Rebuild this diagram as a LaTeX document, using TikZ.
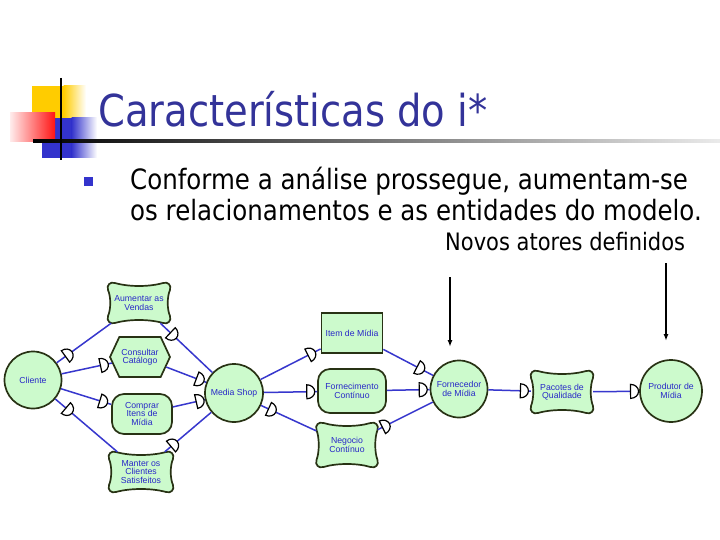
\documentclass[tikz,border=0pt]{standalone}
\usepackage{fontspec}
\setmainfont{DejaVu Sans}
\newfontfamily\tah[FakeStretch=0.875]{DejaVu Sans}
\newfontfamily\arl{Liberation Sans}
\usetikzlibrary{arrows.meta,shapes.symbols,calc}
\definecolor{titleblue}{RGB}{51,51,153}
\definecolor{nodefill}{RGB}{204,250,204}
\definecolor{nodeline}{RGB}{40,50,20}
\definecolor{edgeblue}{RGB}{55,55,205}
\definecolor{txtblue}{RGB}{40,40,200}
\definecolor{bulletblue}{RGB}{51,51,204}
\definecolor{decoyellow}{RGB}{255,204,0}
\definecolor{decored}{RGB}{255,20,20}
\definecolor{decoblue}{RGB}{51,51,204}
\tikzset{
  lbl/.style={font=\arl\fontsize{8.7}{8.5}\selectfont, text=txtblue, align=center, inner sep=1pt},
  actor/.style={lbl, circle, draw=nodeline, fill=nodefill, line width=1.7pt},
  goal/.style={lbl, rectangle, draw=nodeline, fill=nodefill, line width=1.7pt, rounded corners=12pt},
  task/.style={lbl, shape=signal, signal to=east and west, signal pointer angle=130, draw=nodeline, fill=nodefill, line width=1.7pt},
  resource/.style={lbl, rectangle, draw=nodeline, fill=nodefill, line width=1.7pt},
  sgtext/.style={lbl, rectangle},
  sgline/.style={draw=nodeline, fill=nodefill, line width=1.7pt, line join=round},
  dep/.style={draw=edgeblue, line width=1.5pt},
  dmark/.pic={\draw[black, fill=white, line width=1.2pt] (-4,-7) -- (-4,7) arc[start angle=90, end angle=-90, x radius=8, y radius=7] -- cycle;},
  callout/.style={draw=black, line width=1.4pt, -{Latex[length=7pt,width=5pt]}},
}
\newcommand\softgoalnode[5]{%
  \pgfmathsetmacro\sgW{#3/2}\pgfmathsetmacro\sgH{#4/2}%
  \begin{scope}[shift={(#2)}]
  \draw[sgline] (-\sgW+7,-\sgH) .. controls (-\sgW/3,-\sgH+4) and (\sgW/3,-\sgH+4) .. (\sgW-7,-\sgH)
     .. controls (\sgW-2,-\sgH-1.5) and (\sgW+1.5,-\sgH+2) .. (\sgW,-\sgH+7)
     .. controls (\sgW-3,-\sgH/3) and (\sgW-3,\sgH/3) .. (\sgW,\sgH-7)
     .. controls (\sgW+1.5,\sgH-2) and (\sgW-2,\sgH+1.5) .. (\sgW-7,\sgH)
     .. controls (\sgW/3,\sgH-4) and (-\sgW/3,\sgH-4) .. (-\sgW+7,\sgH)
     .. controls (-\sgW+2,\sgH+1.5) and (-\sgW-1.5,\sgH-2) .. (-\sgW,\sgH-7)
     .. controls (-\sgW+3,\sgH/3) and (-\sgW+3,-\sgH/3) .. (-\sgW,-\sgH+7)
     .. controls (-\sgW-1.5,-\sgH+2) and (-\sgW+2,-\sgH-1.5) .. (-\sgW+7,-\sgH) -- cycle;
  \end{scope}
  \node[sgtext, minimum width=#3, minimum height=#4] (#1) at (#2) {#5};
}
\begin{document}
\begin{tikzpicture}[x=1pt,y=-1pt]
\useasboundingbox (0,0) rectangle (720,540);
\fill[white] (0,0) rectangle (720,540);
% decoration
\fill[decoyellow] (32,86) rectangle (64,118);
\shade[left color=decoyellow, right color=white] (63.5,86) rectangle (86,118);
\fill[decoblue] (42,118) rectangle (72,158);
\shade[left color=decoblue, right color=white] (71.5,118) rectangle (97,158);
\shade[left color=decored!8, right color=decored] (10,113) rectangle (55,142);
\shade[left color=black, right color=black!8] (33,140) rectangle (720,142.2);
\draw[black, line width=2pt] (61,78) -- (61,160);
% title
\node[anchor=base west, inner sep=0pt, text=titleblue, font=\tah\fontsize{44}{50}\selectfont] (title) at (98,127) {Características do i*};
% bullet
\fill[bulletblue] (84,177) rectangle (93,186);
\node[anchor=base west, inner sep=0pt, font=\tah\fontsize{28}{31}\selectfont] (l1) at (130,190) {Conforme a análise prossegue, aumentam-se};
\node[anchor=base west, inner sep=0pt, font=\tah\fontsize{28}{31}\selectfont] (l2) at (130,221) {os relacionamentos e as entidades do modelo.};
\node[anchor=base west, inner sep=0pt, font=\tah\fontsize{24}{28}\selectfont] (novos) at (445,251) {Novos atores definidos};
\coordinate (a1s) at (450,277); \coordinate (a1e) at (450,347);
\coordinate (a2s) at (666,263); \coordinate (a2e) at (666,341);
\draw[callout] (a1s) -- (a1e);
\draw[callout] (a2s) -- (a2e);
% nodes
\node[actor, minimum size=57] (cli) at (33,380) {Cliente};
\softgoalnode{aum}{139,303}{62}{40}{Aumentar as\\Vendas}
\node[task, minimum width=60, minimum height=40, inner xsep=0pt] (con) at (140,357) {Consultar\\Catálogo};
\node[goal, minimum width=60, minimum height=40] (com) at (142,414) {Comprar\\Itens de\\Mídia};
\softgoalnode{man}{141,472}{64}{40}{Manter os\\Clientes\\Satisfeitos}
\node[actor, minimum size=58, inner sep=0pt] (ms) at (234,393) {Media Shop};
\node[resource, minimum width=61, minimum height=40] (item) at (352,333) {Item de Mídia};
\node[goal, minimum width=68, minimum height=44] (forn) at (352,391) {Fornecimento\\Contínuo};
\softgoalnode{neg}{347,445}{61}{44}{Negocio\\Contínuo}
\node[actor, minimum size=57, inner sep=0pt] (fdm) at (459,389) {Fornecedor\\de Mídia};
\softgoalnode{pac}{562,392}{62}{42}{Pacotes de\\Qualidade}
\node[actor, minimum size=62, inner sep=0pt] (prod) at (671,391) {Produtor de\\Mídia};
% edges
\draw[dep] (cli) -- (aum);
\draw[dep] (aum) -- (ms);
\draw[dep] (cli) -- (con);
\draw[dep] (con) -- (ms);
\draw[dep] (cli) -- (com);
\draw[dep] (com) -- (ms);
\draw[dep] (cli) -- (man);
\draw[dep] (man) -- (ms);
\draw[dep] (ms) -- (item);
\draw[dep] (item) -- (fdm);
\draw[dep] (ms) -- (forn);
\draw[dep] (forn) -- (fdm);
\draw[dep] (ms) -- (neg);
\draw[dep] (neg) -- (fdm);
\draw[dep] (fdm) -- (pac);
\draw[dep] (pac) -- (prod);
% dependency marks
\path (cli) -- pic[pos=0.22, sloped]{dmark} (aum);
\path (aum) -- pic[pos=0.25, sloped]{dmark} (ms);
\path (cli) -- pic[pos=0.85, sloped]{dmark} (con);
\path (con) -- pic[pos=0.85, sloped]{dmark} (ms);
\path (cli) -- pic[pos=0.85, sloped]{dmark} (com);
\path (com) -- pic[pos=0.85, sloped]{dmark} (ms);
\path (cli) -- pic[pos=0.22, sloped]{dmark} (man);
\path (man) -- pic[pos=0.2, sloped]{dmark} (ms);
\path (ms) -- pic[pos=0.85, sloped]{dmark} (item);
\path (item) -- pic[pos=0.75, sloped]{dmark} (fdm);
\path (ms) -- pic[pos=0.88, sloped]{dmark} (forn);
\path (forn) -- pic[pos=0.85, sloped]{dmark} (fdm);
\path (ms) -- pic[pos=0.2, sloped]{dmark} (neg);
\path (neg) -- pic[pos=0.15, sloped]{dmark} (fdm);
\path (fdm) -- pic[pos=0.85, sloped]{dmark} (pac);
\path (pac) -- pic[pos=0.9, sloped]{dmark} (prod);
\end{tikzpicture}
\end{document}
